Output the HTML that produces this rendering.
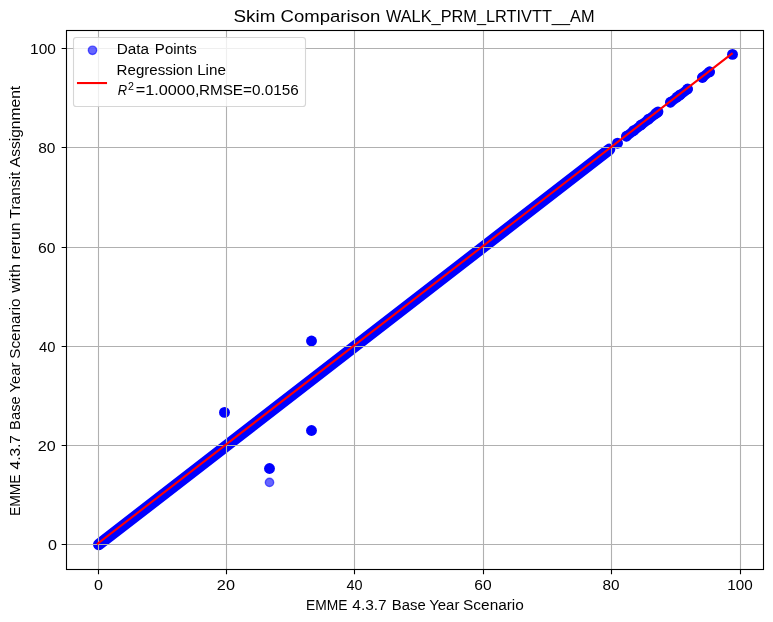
<!DOCTYPE html><html><head><meta charset="utf-8"><style>
html,body{margin:0;padding:0;background:#fff;width:773px;height:622px;overflow:hidden}
svg{display:block;position:absolute;left:0;top:0}
text{font-family:"Liberation Sans", sans-serif;fill:#000}
</style></head><body>
<svg width="773" height="622" viewBox="0 0 773 622">
<rect x="0" y="0" width="773" height="622" fill="#fff"/>
<path d="M98.80,544.53 L609.50,149.38" stroke="#0000ff" stroke-width="11.6" stroke-linecap="round" fill="none"/>
<path d="M626.40,136.30 L657.70,112.30" stroke="#0000ff" stroke-width="9.8" stroke-linecap="round" fill="none"/>
<path d="M670.40,102.30 L687.60,89.30" stroke="#0000ff" stroke-width="9.8" stroke-linecap="round" fill="none"/>
<path d="M702.40,77.40 L709.60,71.40" stroke="#0000ff" stroke-width="9.8" stroke-linecap="round" fill="none"/>
<circle cx="626.4" cy="136.23" r="5.4" fill="#0000ff"/>
<circle cx="633.6" cy="130.66" r="5.4" fill="#0000ff"/>
<circle cx="641.0" cy="124.95" r="5.4" fill="#0000ff"/>
<circle cx="648.5" cy="119.15" r="5.4" fill="#0000ff"/>
<circle cx="655.8" cy="113.51" r="5.4" fill="#0000ff"/>
<circle cx="658.0" cy="111.81" r="5.4" fill="#0000ff"/>
<circle cx="670.4" cy="102.23" r="5.4" fill="#0000ff"/>
<circle cx="677.2" cy="96.98" r="5.4" fill="#0000ff"/>
<circle cx="680.0" cy="94.82" r="5.4" fill="#0000ff"/>
<circle cx="687.6" cy="88.95" r="5.4" fill="#0000ff"/>
<circle cx="702.4" cy="77.51" r="5.4" fill="#0000ff"/>
<circle cx="709.6" cy="71.95" r="5.4" fill="#0000ff"/>
<circle cx="617.5" cy="143.2" r="5.45" fill="#0000ff"/>
<circle cx="732.5" cy="54.4" r="5.45" fill="#0000ff"/>
<circle cx="224.5" cy="412.4" r="5.45" fill="#0000ff"/>
<circle cx="269.5" cy="468.5" r="5.45" fill="#0000ff"/>
<circle cx="311.5" cy="341.0" r="5.45" fill="#0000ff"/>
<circle cx="311.5" cy="430.5" r="5.45" fill="#0000ff"/>
<circle cx="269.5" cy="482.4" r="4.17" fill="#0000ff" fill-opacity="0.6" stroke="#0000ff" stroke-opacity="0.6" stroke-width="1.39"/>
<path d="M98.5,30.5V569.5M226.5,30.5V569.5M354.5,30.5V569.5M483.5,30.5V569.5M611.5,30.5V569.5M740.5,30.5V569.5M66.5,544.5H763.5M66.5,445.5H763.5M66.5,346.5H763.5M66.5,247.5H763.5M66.5,147.5H763.5M66.5,48.5H763.5" stroke="#b0b0b0" stroke-width="1.11" fill="none"/>
<path d="M97.8,543.6 L731.8,53.8" stroke="#ff0000" stroke-width="2.08" stroke-linecap="square" fill="none"/>
<rect x="66.5" y="30.5" width="697.0" height="539.0" fill="none" stroke="#000" stroke-width="1.11"/>
<path d="M98.5,569.5v4.86M226.5,569.5v4.86M354.5,569.5v4.86M483.5,569.5v4.86M611.5,569.5v4.86M740.5,569.5v4.86M66.5,544.5h-4.86M66.5,445.5h-4.86M66.5,346.5h-4.86M66.5,247.5h-4.86M66.5,147.5h-4.86M66.5,48.5h-4.86" stroke="#000" stroke-width="1.11" fill="none"/>
<rect x="73.5" y="37.5" width="232" height="69" rx="2.78" ry="2.78" fill="#ffffff" fill-opacity="0.8" stroke="#cccccc" stroke-opacity="0.8" stroke-width="1.11"/>
<circle cx="92.5" cy="50.3" r="4.17" fill="#0000ff" fill-opacity="0.6" stroke="#0000ff" stroke-opacity="0.6" stroke-width="1.39"/>
<path d="M78,83.05H106" stroke="#ff0000" stroke-width="2.08" stroke-linecap="square"/>
<g opacity="0.999">
<text x="233.53" y="22.0" font-size="16.67" textLength="41.84" lengthAdjust="spacingAndGlyphs">Skim</text>
<text x="280.51" y="22.0" font-size="16.67" textLength="99.91" lengthAdjust="spacingAndGlyphs">Comparison</text>
<text x="385.95" y="22.0" font-size="16.67" textLength="208.54" lengthAdjust="spacingAndGlyphs">WALK_PRM_LRTIVTT__AM</text>
<text x="305.93" y="609.9" font-size="13.89" textLength="41.42" lengthAdjust="spacingAndGlyphs">EMME</text>
<text x="352.33" y="609.9" font-size="13.89" textLength="34.37" lengthAdjust="spacingAndGlyphs">4.3.7</text>
<text x="391.86" y="609.9" font-size="13.89" textLength="33.91" lengthAdjust="spacingAndGlyphs">Base</text>
<text x="429.16" y="609.9" font-size="13.89" textLength="30.23" lengthAdjust="spacingAndGlyphs">Year</text>
<text x="463.12" y="609.9" font-size="13.89" textLength="60.74" lengthAdjust="spacingAndGlyphs">Scenario</text>
<text transform="translate(19.8,516.02) rotate(-90)" x="0" y="0" font-size="13.89" textLength="41.63" lengthAdjust="spacingAndGlyphs">EMME</text>
<text transform="translate(19.8,469.42) rotate(-90)" x="0" y="0" font-size="13.89" textLength="34.39" lengthAdjust="spacingAndGlyphs">4.3.7</text>
<text transform="translate(19.8,429.90) rotate(-90)" x="0" y="0" font-size="13.89" textLength="33.77" lengthAdjust="spacingAndGlyphs">Base</text>
<text transform="translate(19.8,392.49) rotate(-90)" x="0" y="0" font-size="13.89" textLength="30.07" lengthAdjust="spacingAndGlyphs">Year</text>
<text transform="translate(19.8,358.78) rotate(-90)" x="0" y="0" font-size="13.89" textLength="60.40" lengthAdjust="spacingAndGlyphs">Scenario</text>
<text transform="translate(19.8,292.83) rotate(-90)" x="0" y="0" font-size="13.89" textLength="28.74" lengthAdjust="spacingAndGlyphs">with</text>
<text transform="translate(19.8,259.55) rotate(-90)" x="0" y="0" font-size="13.89" textLength="37.13" lengthAdjust="spacingAndGlyphs">rerun</text>
<text transform="translate(19.8,218.39) rotate(-90)" x="0" y="0" font-size="13.89" textLength="46.56" lengthAdjust="spacingAndGlyphs">Transit</text>
<text transform="translate(19.8,167.27) rotate(-90)" x="0" y="0" font-size="13.89" textLength="81.47" lengthAdjust="spacingAndGlyphs">Assignment</text>
<text x="94.02" y="589.9" font-size="13.89" textLength="8.95" lengthAdjust="spacingAndGlyphs">0</text>
<text x="216.86" y="589.9" font-size="13.89" textLength="18.08" lengthAdjust="spacingAndGlyphs">20</text>
<text x="346.41" y="589.9" font-size="13.89" textLength="16.06" lengthAdjust="spacingAndGlyphs">40</text>
<text x="474.25" y="589.9" font-size="13.89" textLength="17.35" lengthAdjust="spacingAndGlyphs">60</text>
<text x="602.41" y="589.9" font-size="13.89" textLength="17.03" lengthAdjust="spacingAndGlyphs">80</text>
<text x="727.26" y="589.9" font-size="13.89" textLength="25.47" lengthAdjust="spacingAndGlyphs">100</text>
<text x="47.92" y="549.9" font-size="13.89" textLength="8.95" lengthAdjust="spacingAndGlyphs">0</text>
<text x="37.81" y="450.9" font-size="13.89" textLength="17.93" lengthAdjust="spacingAndGlyphs">20</text>
<text x="39.12" y="351.9" font-size="13.89" textLength="16.43" lengthAdjust="spacingAndGlyphs">40</text>
<text x="38.09" y="252.9" font-size="13.89" textLength="17.50" lengthAdjust="spacingAndGlyphs">60</text>
<text x="38.21" y="152.9" font-size="13.89" textLength="17.24" lengthAdjust="spacingAndGlyphs">80</text>
<text x="30.13" y="53.9" font-size="13.89" textLength="25.81" lengthAdjust="spacingAndGlyphs">100</text>
<text x="116.70" y="53.9" font-size="13.89" textLength="32.33" lengthAdjust="spacingAndGlyphs">Data</text>
<text x="154.87" y="53.9" font-size="13.89" textLength="41.82" lengthAdjust="spacingAndGlyphs">Points</text>
<text x="116.62" y="74.9" font-size="13.89" textLength="76.27" lengthAdjust="spacingAndGlyphs">Regression</text>
<text x="197.17" y="74.9" font-size="13.89" textLength="28.79" lengthAdjust="spacingAndGlyphs">Line</text>
<text x="117.68" y="94.8" font-size="13.89" textLength="9.36" lengthAdjust="spacingAndGlyphs" style="font-style:italic">R</text>
<text x="128.10" y="89.8" font-size="10.3" textLength="5.94" lengthAdjust="spacingAndGlyphs">2</text>
<text x="135.72" y="94.7" font-size="13.89" textLength="63.74" lengthAdjust="spacingAndGlyphs">=1.0000,</text>
<text x="198.92" y="94.7" font-size="13.89" textLength="99.74" lengthAdjust="spacingAndGlyphs">RMSE=0.0156</text>
</g>
</svg></body></html>
